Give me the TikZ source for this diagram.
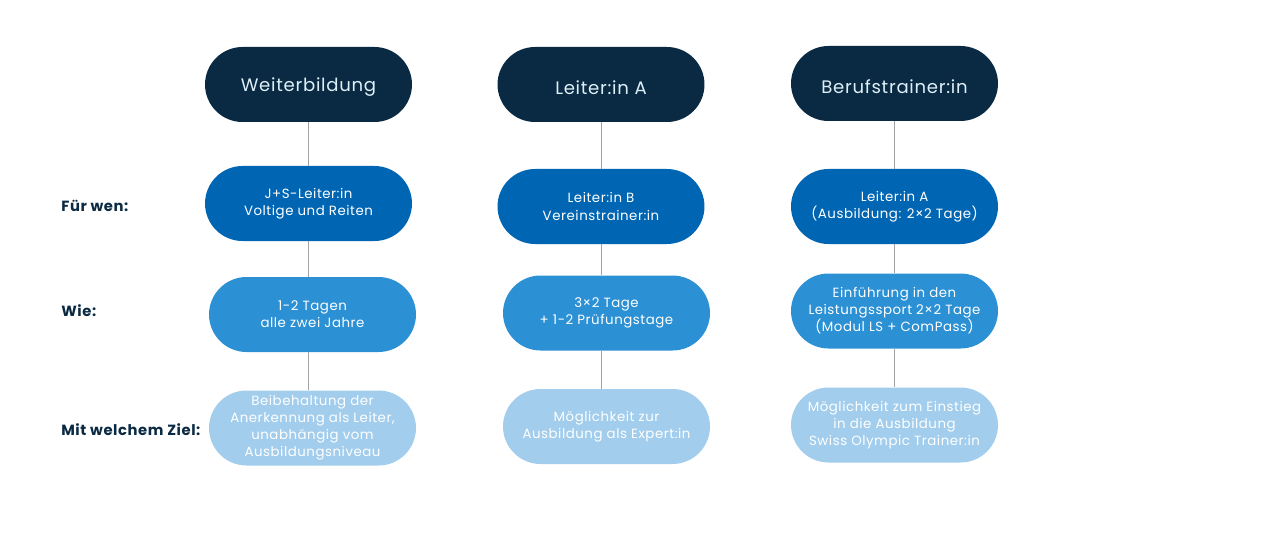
\documentclass[tikz,border=0pt]{standalone}
\usepackage{fontspec}
\setmainfont{Poppins}[LetterSpace=4]
\usetikzlibrary{positioning, shapes.misc}
\definecolor{navy}{HTML}{0A2A43}
\definecolor{blueA}{HTML}{0066B3}
\definecolor{blueB}{HTML}{2B90D4}
\definecolor{blueC}{HTML}{A2CDEC}
\definecolor{headtext}{HTML}{DDEFF7}
\definecolor{linkgray}{HTML}{A3A3A3}
\newcommand{\padtop}[1]{\rule{0pt}{#1}}
\tikzset{
    pill/.style={rounded rectangle, minimum width=4.28cm, minimum height=1.5cm, align=center, inner sep=2pt}, % every box
    headbox/.style={pill, fill=navy, text=headtext, font=\fontsize{10.3}{12}\selectfont,
        execute at begin node={\padtop{11.2pt}}},
    textbox/.style={pill, text=white, font=\fontsize{7.6}{9.7}\selectfont,
        execute at begin node={\padtop{13pt}}},
    whobox/.style={textbox, fill=blueA},
    howbox/.style={textbox, fill=blueB},
    goalbox/.style={textbox, fill=blueC},
    rowlabel/.style={anchor=west, inner xsep=0pt, text=navy, font=\bfseries\fontsize{8.4}{10}\selectfont},
    link/.style={draw=linkgray, line width=0.5pt},
}

\begin{document}
\begin{tikzpicture}[on grid]
            \useasboundingbox (0,0) rectangle (25.24,10.82);
            % Kopfzeile
            \node[headbox] (W1) at (6.17,9.13) {Weiterbildung};
            \node[headbox] (W2) at (12.02,9.13) {Leiter:in A};
            \node[headbox] (W3) at (17.89,9.15) {Berufstrainer:in};

            % Für wen
            \node[whobox] (F1) [below=2.38cm of W1] {J+S-Leiter:in\\Voltige und Reiten};
            \node[whobox] (F2) [below=2.44cm of W2] {Leiter:in B\\Vereinstrainer:in};
            \node[whobox] (F3) [below=2.46cm of W3] {Leiter:in A\\(Ausbildung: 2×2 Tage)};

            % Wie
            \node[howbox] (H1) [below=2.22cm of F1, xshift=0.08cm] {1-2 Tagen\\alle zwei Jahre};
            \node[howbox] (H2) [below=2.13cm of F2, xshift=0.11cm] {3×2 Tage\\+ 1-2 Prüfungstage};
            \node[howbox] (H3) [below=2.09cm of F3] {Einführung in den\\Leistungssport 2×2 Tage\\(Modul LS + ComPass)};

            % Ziel
            \node[goalbox] (Z1) [below=2.27cm of H1] {Beibehaltung der\\Anerkennung als Leiter,\\unabhängig vom\\Ausbildungsniveau};
            \node[goalbox] (Z2) [below=2.27cm of H2] {Möglichkeit zur\\Ausbildung als Expert:in};
            \node[goalbox] (Z3) [below=2.28cm of H3] {Möglichkeit zum Einstieg\\in die Ausbildung\\Swiss Olympic Trainer:in};

            % Zeilenbeschriftung
            \coordinate (L) at (1.22,0);
            \node[rowlabel] (LF) at ([yshift=-0.05cm]F1 -| L) {Für wen:};
            \node[rowlabel] (LH) at ([yshift=0.07cm]H1 -| L) {Wie:};
            \node[rowlabel] (LZ) at ([yshift=-0.04cm]Z1 -| L) {Mit welchem Ziel:};

            % Verbindungen
            \foreach \c in {1,2,3} {
                \path[link] (W\c.south) -- (W\c.south |- F\c.north);
                \path[link] (F\c.south) -- (F\c.south |- H\c.north);
                \path[link] (F\c.south |- H\c.south) -- (F\c.south |- Z\c.north);
            }
        \end{tikzpicture}
\end{document}
